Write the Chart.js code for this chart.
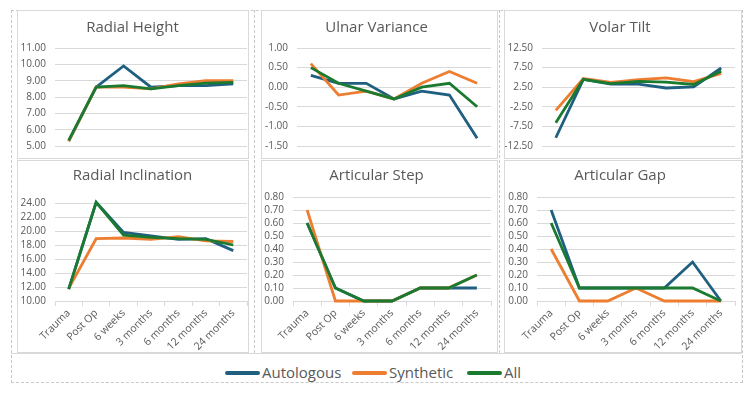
<!DOCTYPE html>
<html>
<head>
<meta charset="utf-8">
<script src="https://cdn.jsdelivr.net/npm/chart.js@4.4.1/dist/chart.umd.min.js"></script>
<style>
  body { margin: 0; background: #fff; width: 750px; height: 393px; position: relative; overflow: hidden; font-family: "Open Sans", sans-serif; }
  .frame { position: absolute; left: 11px; top: 10px; width: 730px; height: 371px; border: 1px dashed #c8c8c8; }
  .vdash { position: absolute; top: 10px; height: 343px; border-left: 1px dashed #c8c8c8; }
  .hline { position: absolute; left: 11px; top: 353px; width: 731px; border-top: 1px solid #d9d9d9; }
  .panel { position: absolute; border: 1px solid #d9d9d9; background: #fff; box-sizing: border-box; }
  .panel canvas { display: block; }
  .legend { position: absolute; top: 361px; left: 0; width: 750px; height: 22px; font-size: 15px; color: #595959; }
  .legend span { position: absolute; top: 0; line-height: 22px; }
  .legend i { position: absolute; top: 10px; width: 35px; height: 4px; border-radius: 2px; }
</style>
</head>
<body>
<div class="frame"></div>
<div class="vdash" style="left:254px"></div>
<div class="vdash" style="left:499px"></div>
<div class="hline"></div>

<div class="panel" style="left:17px;top:10px;width:232px;height:149px"><canvas id="c1"></canvas></div>
<div class="panel" style="left:261px;top:10px;width:237px;height:149px"><canvas id="c2"></canvas></div>
<div class="panel" style="left:504px;top:10px;width:238px;height:149px"><canvas id="c3"></canvas></div>
<div class="panel" style="left:17px;top:160px;width:232px;height:193px"><canvas id="c4"></canvas></div>
<div class="panel" style="left:261px;top:160px;width:237px;height:193px"><canvas id="c5"></canvas></div>
<div class="panel" style="left:504px;top:160px;width:238px;height:193px"><canvas id="c6"></canvas></div>

<div class="legend">
  <i style="left:225px;background:#1f5f80"></i><span style="left:262px">Autologous</span>
  <i style="left:352px;background:#ed7d31"></i><span style="left:389px">Synthetic</span>
  <i style="left:467px;background:#1a7a30"></i><span style="left:504px">All</span>
</div>

<script>
const timepoints = ["Trauma", "Post Op", "6 weeks", "3 months", "6 months", "12 months", "24 months"];
const seriesNames = ["Autologous", "Synthetic", "All"];
const seriesColors = ["#1f5f80", "#ed7d31", "#1a7a30"];

const radialHeightAuto = [5.3, 8.6, 9.9, 8.6, 8.7, 8.7, 8.8];
const radialHeightSyn  = [5.3, 8.6, 8.6, 8.5, 8.8, 9.0, 9.0];
const radialHeightAll  = [5.35, 8.6, 8.7, 8.5, 8.7, 8.85, 8.9];

const ulnarVarAuto = [0.3, 0.1, 0.1, -0.3, -0.1, -0.2, -1.3];
const ulnarVarSyn  = [0.6, -0.2, -0.1, -0.3, 0.1, 0.4, 0.1];
const ulnarVarAll  = [0.5, 0.1, -0.1, -0.3, 0.0, 0.1, -0.5];

const volarTiltAuto = [-10.4, 4.5, 3.3, 3.3, 2.3, 2.6, 7.4];
const volarTiltSyn  = [-3.4, 4.7, 3.7, 4.4, 4.9, 3.9, 6.0];
const volarTiltAll  = [-6.6, 4.5, 3.4, 4.0, 3.8, 3.2, 6.6];

const radialInclAuto = [11.7, 24.1, 19.8, 19.3, 18.8, 18.9, 17.2];
const radialInclSyn  = [11.8, 18.9, 19.0, 18.8, 19.2, 18.6, 18.5];
const radialInclAll  = [11.7, 24.1, 19.4, 19.1, 18.9, 18.8, 18.0];

const artStepAuto = [0.6, 0.1, 0, 0, 0.1, 0.1, 0.1];
const artStepSyn  = [0.7, 0, 0, 0, 0.1, 0.1, 0.2];
const artStepAll  = [0.6, 0.1, 0, 0, 0.1, 0.1, 0.2];

const artGapAuto = [0.7, 0.1, 0.1, 0.1, 0.1, 0.3, 0.0];
const artGapSyn  = [0.4, 0, 0, 0.1, 0, 0, 0];
const artGapAll  = [0.6, 0.1, 0.1, 0.1, 0.1, 0.1, 0.0];

const textColor = "#595959";
const gridColor = "#d9d9d9";

// one small chart per panel
function makeChart(id, title, series, yMin, yMax, yStep, opts) {
  const el = document.getElementById(id);
  const box = el.parentNode;
  el.width = box.clientWidth;
  el.height = box.clientHeight;
  el.style.width = box.clientWidth + "px";
  el.style.height = box.clientHeight + "px";

  const datasets = series.map((vals, i) => ({
    label: seriesNames[i],
    data: vals,
    borderColor: seriesColors[i],
    backgroundColor: seriesColors[i],
    borderWidth: 2.8,
    pointRadius: 0,
    tension: 0,
    clip: false,
    order: 2 - i,
  }));

  return new Chart(el, {
    type: "line",
    data: { labels: timepoints, datasets: datasets },
    options: {
      responsive: false,
      animation: false,
      layout: { padding: { left: 0, right: opts.right, top: 0, bottom: 0 } },
      plugins: {
        legend: { display: false },
        tooltip: { enabled: false },
        title: {
          display: true,
          text: title,
          color: textColor,
          font: { family: "Open Sans", size: 15, weight: "normal" },
          padding: { top: opts.titleTop, bottom: opts.titleBottom },
        },
      },
      scales: {
        x: {
          offset: true,
          border: { display: opts.showX, color: gridColor },
          grid: { display: opts.showX, offset: true, drawOnChartArea: false, color: gridColor, tickLength: 5 },
          ticks: {
            display: opts.showX,
            autoSkip: false,
            color: textColor,
            font: { family: "Open Sans", size: 10.5 },
            minRotation: 45,
            maxRotation: 45,
            padding: 1,
          },
          afterFit: (s) => { s.height = opts.bottom; },
        },
        y: {
          min: yMin,
          max: yMax,
          border: { display: false },
          grid: { color: gridColor, drawTicks: true, tickLength: 7, tickColor: "rgba(0,0,0,0)" },
          ticks: {
            stepSize: yStep,
            autoSkip: false,
            color: textColor,
            font: { family: "Open Sans", size: 10 },
            padding: 2,
            callback: (v) => Number(v).toFixed(2),
          },
          afterFit: (s) => { s.width = opts.left; },
        },
      },
    },
  });
}

const topRow = { showX: false, bottom: 12, titleTop: 8, titleBottom: 11 };
const bottomRow = { showX: true, bottom: 51, titleTop: 6, titleBottom: 12 };

makeChart("c1", "Radial Height", [radialHeightAuto, radialHeightSyn, radialHeightAll], 5, 11, 1,
  Object.assign({}, topRow, { left: 37, right: 1 }));
makeChart("c2", "Ulnar Variance", [ulnarVarAuto, ulnarVarSyn, ulnarVarAll], -1.5, 1, 0.5,
  Object.assign({}, topRow, { left: 35, right: 6 }));
makeChart("c3", "Volar Tilt", [volarTiltAuto, volarTiltSyn, volarTiltAll], -12.5, 12.5, 5,
  Object.assign({}, topRow, { left: 37, right: 6 }));
makeChart("c4", "Radial Inclination", [radialInclAuto, radialInclSyn, radialInclAll], 10, 24, 2,
  Object.assign({}, bottomRow, { left: 37, right: 1, titleBottom: 18 }));
makeChart("c5", "Articular Step", [artStepAuto, artStepSyn, artStepAll], 0, 0.8, 0.1,
  Object.assign({}, bottomRow, { left: 31, right: 6 }));
makeChart("c6", "Articular Gap", [artGapAuto, artGapSyn, artGapAll], 0, 0.8, 0.1,
  Object.assign({}, bottomRow, { left: 32, right: 6 }));
</script>
</body>
</html>
